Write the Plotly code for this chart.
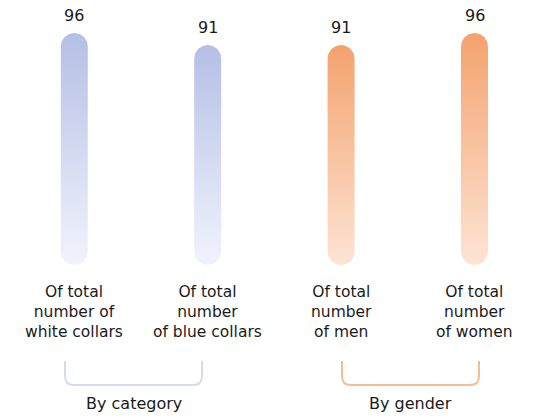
import numpy as np
import plotly.graph_objects as go

# Share of employees, by category and by gender
categories = [
    "Of total<br>number of<br>white collars",
    "Of total<br>number<br>of blue collars",
    "Of total<br>number<br>of men",
    "Of total<br>number<br>of women",
]
values = [96, 91, 91, 96]
groups = ["By category", "By gender"]
group_members = [[0, 1], [2, 3]]

W, H = 550, 419
# axis geometry (pixels per unit on each axis)
X0 = -0.557
PX_X = 133.4
PX_Y = 232 / 96
BASE_PX = 265
X1 = X0 + W / PX_X
Y1 = BASE_PX / PX_Y
Y0 = -(H - BASE_PX) / PX_Y


def ypx(p):
    """pixel row -> y data value"""
    return (BASE_PX - p) / PX_Y


def xpx(p):
    """pixel column -> x data value"""
    return X0 + p / PX_X


BLUE = ("#f1f3fc", "#b5bfe5")
ORANGE = ("#fde4d4", "#f4a26e")
palettes = [BLUE, BLUE, ORANGE, ORANGE]
bracket_colors = ["#d6daf0", "#f6bd92"]
TEXT = "#1a1a1a"
FONT = "DejaVu Sans, sans-serif"

half_w_px = 13.5
rx = half_w_px / PX_X
ry = half_w_px / PX_Y

fig = go.Figure()

for i, (v, pal) in enumerate(zip(values, palettes)):
    t_bot = np.linspace(np.pi, 2 * np.pi, 40)
    t_top = np.linspace(0, np.pi, 40)
    xs = np.concatenate([i + rx * np.cos(t_bot), i + rx * np.cos(t_top)])
    ys = np.concatenate([ry + ry * np.sin(t_bot), (v - ry) + ry * np.sin(t_top)])
    fig.add_trace(go.Scatter(
        x=np.append(xs, xs[0]), y=np.append(ys, ys[0]),
        mode="lines", fill="toself",
        line=dict(width=0, color=pal[1]),
        fillgradient=dict(type="vertical", colorscale=[[0, pal[0]], [1, pal[1]]]),
        hoverinfo="skip", showlegend=False,
    ))
    fig.add_annotation(x=i, y=v, text=str(v), showarrow=False,
                       yanchor="bottom", yshift=6,
                       font=dict(size=16, color=TEXT, family=FONT))
    fig.add_annotation(x=i, y=ypx(281), text=categories[i], showarrow=False,
                       yanchor="top", align="center",
                       font=dict(size=15.5, color=TEXT, family=FONT))

# group brackets with rounded lower corners
bracket_px = [(65, 202), (342, 479)]
top_px, bot_px, rad = 361, 385, 9
for (l, r), col, name in zip(bracket_px, bracket_colors, groups):
    xl, xr = xpx(l), xpx(r)
    yt, yb = ypx(top_px), ypx(bot_px)
    dx, dy = rad / PX_X, rad / PX_Y
    path = (f"M {xl},{yt} L {xl},{yb + dy} Q {xl},{yb} {xl + dx},{yb} "
            f"L {xr - dx},{yb} Q {xr},{yb} {xr},{yb + dy} L {xr},{yt}")
    fig.add_shape(type="path", path=path, xref="x", yref="y",
                  line=dict(color=col, width=2))
    fig.add_annotation(x=(xl + xr) / 2, y=ypx(403), text=name, showarrow=False,
                       yanchor="middle", font=dict(size=16, color=TEXT, family=FONT))

fig.update_layout(
    width=W, height=H,
    margin=dict(l=0, r=0, t=0, b=0),
    paper_bgcolor="white", plot_bgcolor="white",
    font=dict(family=FONT),
    xaxis=dict(range=[X0, X1], visible=False, fixedrange=True),
    yaxis=dict(range=[Y0, Y1], visible=False, fixedrange=True),
)

fig.write_html("out.html")
